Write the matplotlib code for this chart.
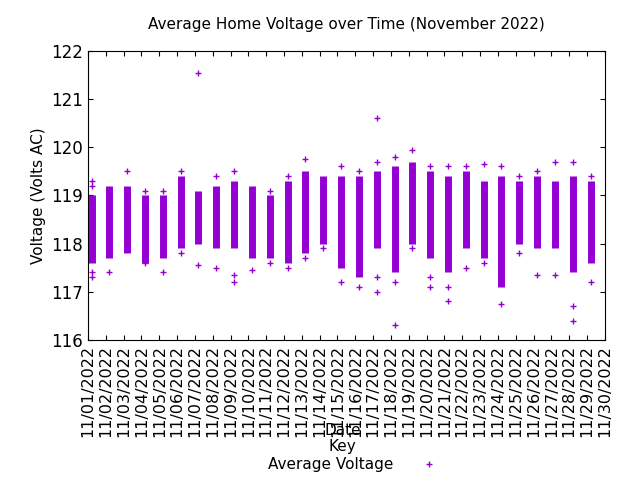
import matplotlib.pyplot as plt

plt.rcParams['font.family'] = 'DejaVu Sans'

# days of November 2022
days = list(range(1, 31))
labels = ['11/%02d/2022' % d for d in days]

# dense range of readings per day (low, high)
low = [117.6, 117.7, 117.8, 117.6, 117.7, 117.9, 118.0, 117.9, 117.9, 117.7,
       117.7, 117.6, 117.8, 118.0, 117.5, 117.3, 117.9, 117.4, 118.0, 117.7,
       117.4, 117.9, 117.7, 117.1, 118.0, 117.9, 117.9, 117.4, 117.6, 117.9]
high = [119.0, 119.2, 119.2, 119.0, 119.0, 119.4, 119.1, 119.2, 119.3, 119.2,
        119.0, 119.3, 119.5, 119.4, 119.4, 119.4, 119.5, 119.6, 119.7, 119.5,
        119.4, 119.5, 119.3, 119.4, 119.3, 119.4, 119.3, 119.4, 119.3, 119.7]

# scattered readings outside the dense range
outliers = {
    1: [117.4, 117.3, 119.2, 119.3], 2: [117.4], 3: [119.5], 4: [119.1, 117.6],
    5: [117.4, 119.1], 6: [119.5, 117.8], 7: [121.55, 117.55], 8: [119.4, 117.5],
    9: [119.5, 117.2, 117.35], 10: [117.45], 11: [119.1, 117.6], 12: [119.4, 117.5],
    13: [119.75, 117.7], 14: [117.9], 15: [117.2, 119.6], 16: [117.1, 119.5],
    17: [117.0, 117.3, 119.7, 120.6], 18: [116.3, 117.2, 119.8], 19: [119.95, 117.9],
    20: [117.1, 117.3, 119.6], 21: [116.8, 117.1, 119.6], 22: [119.6, 117.5],
    23: [119.65, 117.6], 24: [116.75, 119.6], 25: [119.4, 117.8],
    26: [119.5, 117.35], 27: [119.7, 117.35], 28: [116.4, 116.7, 119.7],
    29: [117.2, 119.4], 30: [117.05],
}

color = '#9400d3'

fig = plt.figure(figsize=(6.4, 4.8), dpi=100)
ax = fig.add_axes([0.1375, 0.292, 0.8075, 0.602])

xs = [d - 1 + 0.2 for d in days]
ax.vlines(xs, low, high, color=color, linewidth=5)
ox, oy = [], []
for d, vals in outliers.items():
    for v in vals:
        ox.append(d - 1 + 0.2)
        oy.append(v)
ax.plot(ox, oy, '+', color=color, markersize=5, linestyle='none',
        label='Average Voltage')

ax.set_xlim(0, 29)
ax.set_ylim(116, 122)
ax.set_xticks([d - 1 for d in days])
ax.set_xticklabels(labels, rotation=90, fontsize=11.5)
ax.tick_params(axis='y', labelsize=12)
ax.tick_params(direction='in', top=True, right=True)
ax.set_ylabel('Voltage (Volts AC)', fontsize=11)
ax.set_title('Average Home Voltage over Time (November 2022)', fontsize=11, pad=16)

fig.text(0.535, 0.093, 'Date', ha='center', fontsize=11)
fig.text(0.535, 0.06, 'Key', ha='center', fontsize=11)
fig.text(0.615, 0.022, 'Average Voltage', ha='right', fontsize=11)
fig.lines.append(plt.Line2D([0.67], [0.034], marker='+', color=color,
                            transform=fig.transFigure, markersize=5))

fig.savefig('out.png', dpi=100)
